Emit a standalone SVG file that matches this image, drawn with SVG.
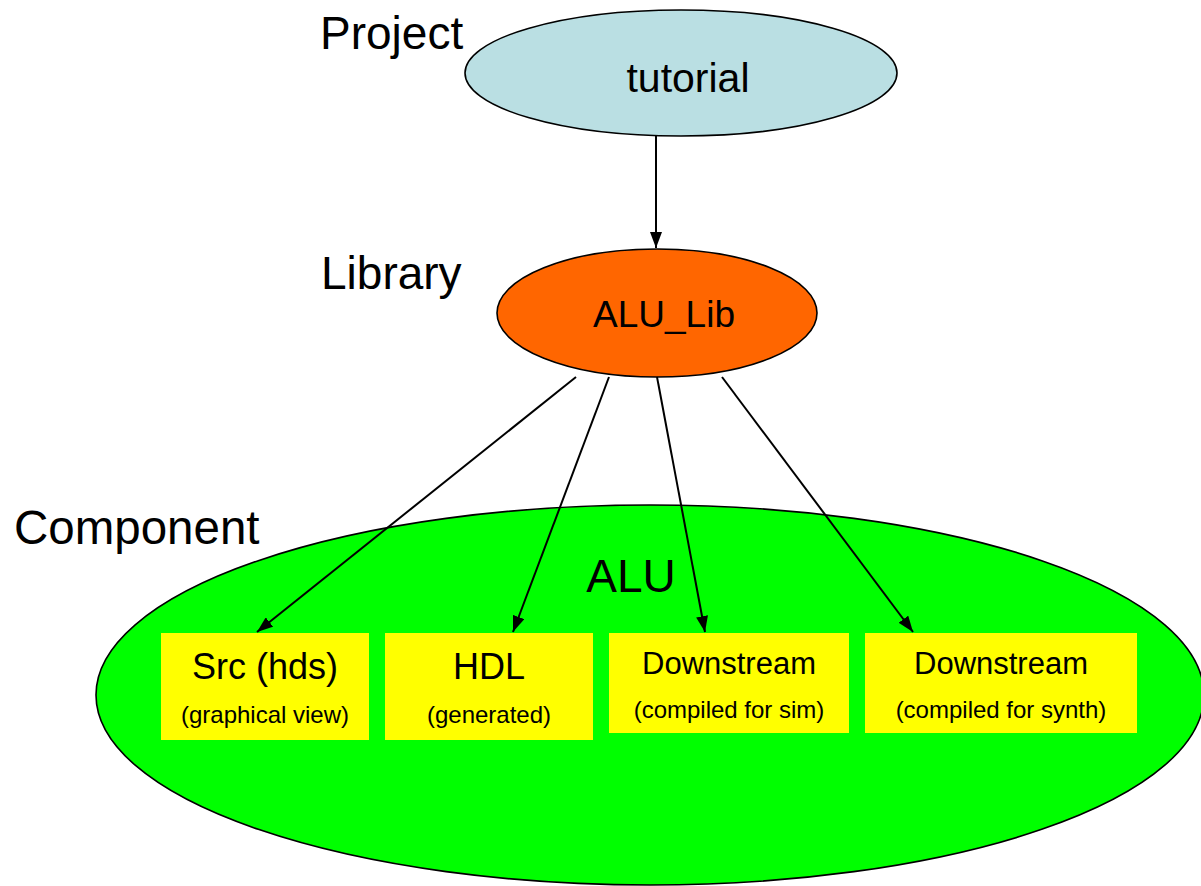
<svg xmlns="http://www.w3.org/2000/svg" width="1201" height="886" viewBox="0 0 1201 886">
<style>
text{font-family:"Liberation Sans",Arial,sans-serif;fill:#000}
.lbl{font-size:46px}
.ell{stroke:#000;stroke-width:1.6}
.box{fill:#FFFF00}
.t1{font-size:36px;text-anchor:middle}
.t2{font-size:24px;text-anchor:middle}
.t3{font-size:31px;text-anchor:middle}
.conn line{stroke:#000;stroke-width:2}
</style>
<defs>
<marker id="ah" viewBox="0 0 16 12" refX="16" refY="6" markerWidth="16" markerHeight="12" markerUnits="userSpaceOnUse" orient="auto">
<path d="M0,0 L16,6 L0,12 z" fill="#000"/>
</marker>
</defs>
<rect width="1201" height="886" fill="#fff"/>
<text class="lbl" x="320" y="49">Project</text>
<text class="lbl" x="321" y="289">Library</text>
<text class="lbl" x="14" y="544" style="font-size:47.5px">Component</text>
<g id="component">
<ellipse class="ell" cx="650" cy="695" rx="554" ry="190" fill="#00FF00"/>
<text class="lbl" x="631" y="592" text-anchor="middle">ALU</text>
</g>
<g id="project">
<ellipse class="ell" cx="681" cy="73" rx="216" ry="63" fill="#BADFE3"/>
<text x="688" y="92" font-size="41" text-anchor="middle">tutorial</text>
</g>
<g id="library">
<ellipse class="ell" cx="657" cy="313" rx="160" ry="64" fill="#FF6600"/>
<text x="664" y="327" font-size="37" text-anchor="middle">ALU_Lib</text>
</g>
<g id="src">
<rect class="box" x="161" y="633" width="208" height="107"/>
<text class="t1" x="265" y="679">Src (hds)</text>
<text class="t2" x="265" y="723">(graphical view)</text>
</g>
<g id="hdl">
<rect class="box" x="385" y="633" width="208" height="107"/>
<text class="t1" x="489" y="679">HDL</text>
<text class="t2" x="489" y="723">(generated)</text>
</g>
<g id="ds-sim">
<rect class="box" x="609" y="633" width="240" height="100"/>
<text class="t3" x="729" y="674">Downstream</text>
<text class="t2" x="729" y="718">(compiled for sim)</text>
</g>
<g id="ds-synth">
<rect class="box" x="865" y="633" width="272" height="100"/>
<text class="t3" x="1001" y="674">Downstream</text>
<text class="t2" x="1001" y="718">(compiled for synth)</text>
</g>
<g class="conn" id="connectors">
<line x1="656" y1="136" x2="656" y2="248" marker-end="url(#ah)"/>
<line x1="576" y1="377" x2="257" y2="632" marker-end="url(#ah)"/>
<line x1="609" y1="377" x2="513" y2="632" marker-end="url(#ah)"/>
<line x1="657" y1="377" x2="705" y2="632" marker-end="url(#ah)"/>
<line x1="722" y1="377" x2="913" y2="632" marker-end="url(#ah)"/>
</g>
</svg>
